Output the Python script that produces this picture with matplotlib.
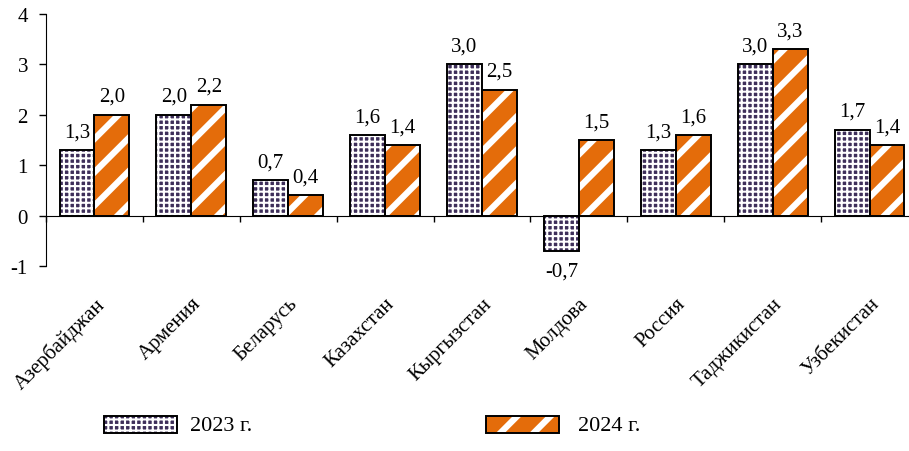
import matplotlib
matplotlib.use("Agg")
import matplotlib.pyplot as plt
from matplotlib.patches import Rectangle
from matplotlib.transforms import blended_transform_factory
import numpy as np

countries = ["Азербайджан", "Армения", "Беларусь", "Казахстан", "Кыргызстан",
             "Молдова", "Россия", "Таджикистан", "Узбекистан"]
vals_2023 = [1.3, 2.0, 0.7, 1.6, 3.0, -0.7, 1.3, 3.0, 1.7]
vals_2024 = [2.0, 2.2, 0.4, 1.4, 2.5, 1.5, 1.6, 3.3, 1.4]
series_names = ["2023 г.", "2024 г."]

purple = "#3e2f5a"
orange = "#e46c0a"
fs = 15

plt.rcParams["font.family"] = ["Liberation Serif", "DejaVu Serif"]
plt.rcParams["hatch.color"] = "white"

fig = plt.figure(figsize=(9.09, 4.52), dpi=100)
ax = fig.add_axes([46 / 909, 1 - 267 / 452, 872 / 909, 252 / 452])

x = np.arange(len(countries))
w = 0.36
styles = [(purple, "+++", 1.5), (orange, "/", 4.5)]


def set_hlw(patch, lw):
    if hasattr(patch, "set_hatch_linewidth"):
        patch.set_hatch_linewidth(lw)
    else:
        patch._hatch_linewidth = lw


def hatched_bars(xs, vals, style):
    color, hatch, hlw = style
    # fill with white hatch first, black outline on top
    bars = ax.bar(xs, vals, w, color=color, hatch=hatch, edgecolor=None, linewidth=0, zorder=2)
    for b in bars:
        set_hlw(b, hlw)
    ax.bar(xs, vals, w, fill=False, edgecolor="black", linewidth=1.4, zorder=3)


hatched_bars(x - w / 2, vals_2023, styles[0])
hatched_bars(x + w / 2, vals_2024, styles[1])

# value labels
for xs, vals in ((x - w / 2, vals_2023), (x + w / 2, vals_2024)):
    for xi, v in zip(xs, vals):
        txt = f"{v:.1f}".replace(".", ",")
        if v >= 0:
            ax.annotate(txt, (xi, v), xytext=(0, 10), textcoords="offset points",
                        ha="center", va="baseline", fontsize=fs)
        else:
            ax.annotate(txt, (xi, v), xytext=(0, -8), textcoords="offset points",
                        ha="center", va="top", fontsize=fs)

ax.set_xlim(-0.5, len(countries) - 0.5)
ax.set_ylim(-1, 4)
ax.set_yticks(range(-1, 5))
ax.set_yticklabels([str(t) for t in range(-1, 5)], fontsize=fs)
ax.tick_params(axis="y", direction="out", length=5, width=1, pad=8)

ax.spines["top"].set_visible(False)
ax.spines["right"].set_visible(False)
ax.spines["bottom"].set_position(("data", 0))
ax.set_xticks(np.arange(-0.5, len(countries), 1.0))
ax.set_xticklabels([])
ax.tick_params(axis="x", direction="out", length=4, width=1)

# rotated category labels under the plot
trans = blended_transform_factory(ax.transData, ax.transAxes)
for xi, name in zip(x, countries):
    ax.text(xi, -0.11, name, transform=trans, rotation=45,
            rotation_mode="anchor", ha="right", va="top", fontsize=fs)

# legend drawn by hand under the chart
W, H = 909, 452
legend_pos = [(104, 190), (486, 578)]
for (px, tx), (col, hatch, hlw), name in zip(legend_pos, styles, series_names):
    r = Rectangle((px / W, 1 - 434 / H), 73 / W, 17 / H, facecolor=col, hatch=hatch,
                  edgecolor=None, linewidth=0, transform=fig.transFigure)
    set_hlw(r, hlw)
    fig.add_artist(r)
    fig.add_artist(Rectangle((px / W, 1 - 434 / H), 73 / W, 17 / H, fill=False,
                             edgecolor="black", linewidth=1.4, transform=fig.transFigure))
    fig.text(tx / W, 1 - 427 / H, name, ha="left", va="center", fontsize=fs + 1)

fig.savefig("out.png", dpi=100)
